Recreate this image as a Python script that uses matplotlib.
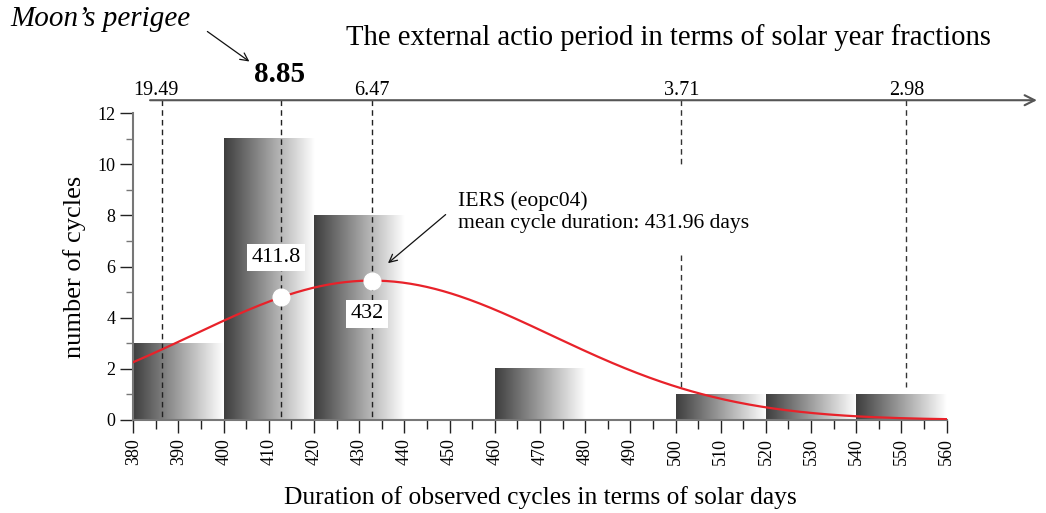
import numpy as np
import matplotlib
matplotlib.use("Agg")
import matplotlib.pyplot as plt
from matplotlib.colors import LinearSegmentedColormap

plt.rcParams["font.family"] = ["Liberation Serif", "DejaVu Serif"]

# histogram of observed cycle durations (20-day bins)
bin_edges = [380, 400, 420, 440, 460, 480, 500, 520, 540, 560]
counts = [3, 11, 8, 0, 2, 0, 1, 1, 1]

# fitted normal curve (as drawn)
fit_mean = 432.8
fit_sd = 39.8
fit_peak = 5.45

# marked points on the curve
mark_days = [412.8, 432.8]
mark_labels = ["411.8", "432"]
mark_label_days = [411.6, 431.8]
mark_label_y = [6.35, 4.15]

# top axis: beat periods in solar years
top_days = [386.4, 412.8, 432.8, 501.3, 551.1]
top_label_days = [385.0, 412.3, 432.8, 501.3, 551.1]
top_labels = ["19.49", "8.85", "6.47", "3.71", "2.98"]

fig = plt.figure(figsize=(10.46, 5.13), dpi=100)
ax = fig.add_axes([0.1274, 0.1813, 0.7776, 0.5984])

cmap = LinearSegmentedColormap.from_list("bar", ["#3e3e3e", "#ffffff"])
grad = np.linspace(0, 1, 256).reshape(1, -1)
for i, c in enumerate(counts):
    if c > 0:
        ax.imshow(grad, extent=[bin_edges[i], bin_edges[i + 1], 0, c],
                  aspect="auto", cmap=cmap, zorder=1, interpolation="bilinear")

# dashed verticals from the top axis
for d, ld, lab in zip(top_days, top_label_days, top_labels):
    if lab == "3.71":
        ax.plot([d, d], [12.5, 9.9], ls=(0, (4, 3)), color="#333", lw=1, clip_on=False, zorder=2)
        ax.plot([d, d], [6.45, 1.3], ls=(0, (4, 3)), color="#333", lw=1, clip_on=False, zorder=2)
    elif lab == "2.98":
        ax.plot([d, d], [12.5, 1.3], ls=(0, (4, 3)), color="#333", lw=1, clip_on=False, zorder=2)
    else:
        ax.plot([d, d], [12.5, 0], ls=(0, (4, 3)), color="#222", lw=1, clip_on=False, zorder=2)
    if lab == "8.85":
        ax.text(ld, 13.21, lab, ha="center", va="baseline", fontsize=21, fontweight="bold")
    else:
        ax.text(ld, 12.70, lab, ha="center", va="baseline", fontsize=14.5)

# top axis arrow
ax.annotate("", xy=(580.6, 12.5), xytext=(383.1, 12.5),
            arrowprops=dict(arrowstyle="->", color="#555", lw=1.5, mutation_scale=18),
            annotation_clip=False)

xs = np.linspace(380, 560, 400)
ys = fit_peak * np.exp(-(xs - fit_mean) ** 2 / (2 * fit_sd ** 2))
ax.plot(xs, ys, color="#e8222a", lw=1.6, zorder=3)

mark_vals = [fit_peak * np.exp(-(d - fit_mean) ** 2 / (2 * fit_sd ** 2)) for d in mark_days]
ax.plot(mark_days, mark_vals, "o", color="white", ms=12, zorder=4)
box = dict(facecolor="white", edgecolor="none", pad=3)
for ld, ly, lab in zip(mark_label_days, mark_label_y, mark_labels):
    ax.text(ld, ly, lab, ha="center", va="center", fontsize=16, bbox=box, zorder=5)

ax.annotate("", xy=(435.9, 6.06), xytext=(449.6, 8.1),
            arrowprops=dict(arrowstyle="->", color="#111", lw=0.9, mutation_scale=14),
            annotation_clip=False)
ax.text(451.8, 8.95, "IERS (eopc04)\nmean cycle duration: 431.96 days",
        ha="left", va="top", fontsize=15.6, linespacing=1.25)

ax.annotate("", xy=(406.2, 13.95), xytext=(395.9, 15.25),
            arrowprops=dict(arrowstyle="->", color="#111", lw=0.9, mutation_scale=14),
            annotation_clip=False)
fig.text(10 / 1046, 1 - 19 / 513, "Moon\u2019s perigee", ha="left", va="center",
         fontsize=21, style="italic")
fig.text(668 / 1046, 1 - 38 / 513, "The external actio period in terms of solar year fractions",
         ha="center", va="center", fontsize=20.6)

ax.set_xlim(380, 560)
ax.set_ylim(0, 12)
ax.set_xticks(np.arange(380, 561, 10))
ax.set_xticks(np.arange(380, 561, 5), minor=True)
ax.set_yticks(np.arange(0, 13, 2))
ax.set_yticks(np.arange(0, 13, 1), minor=True)
ax.tick_params(axis="x", which="major", labelrotation=90, length=9.5, width=1, color="#222", labelsize=13)
ax.tick_params(axis="x", which="minor", length=6.5, width=1, color="#222")
ax.tick_params(axis="y", which="major", length=9.5, width=1, color="#222", labelsize=13)
ax.tick_params(axis="y", which="minor", length=5, width=1, color="#777")
for s in ["top", "right"]:
    ax.spines[s].set_visible(False)
for s in ["left", "bottom"]:
    ax.spines[s].set_color("#777")
    ax.spines[s].set_linewidth(1.5)

ax.set_xlabel("Duration of observed cycles in terms of solar days", fontsize=18.4, labelpad=15)
ax.set_ylabel("number of cycles", fontsize=19, labelpad=8)

fig.savefig("out.png", dpi=100)
